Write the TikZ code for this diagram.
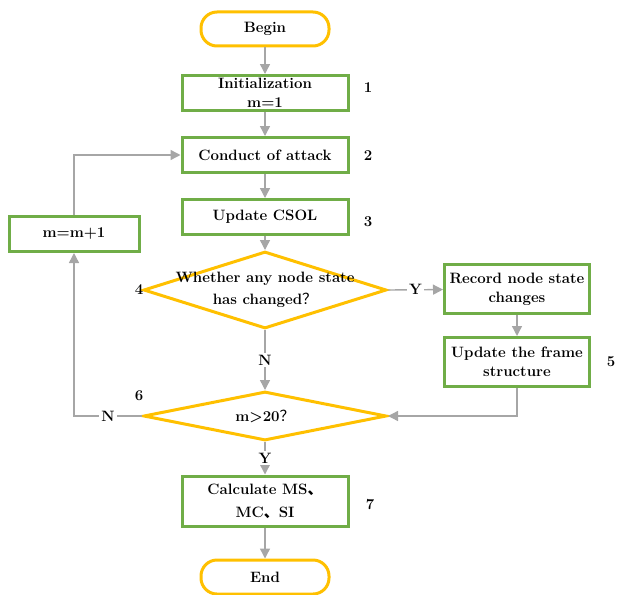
\documentclass[tikz,border=0pt]{standalone}
\usepackage{fontspec}
\newfontfamily\cjk{Noto Sans CJK SC}
\usetikzlibrary{shapes.geometric,arrows.meta}
\definecolor{flowyellow}{HTML}{FFC000}
\definecolor{flowgreen}{HTML}{70AD47}
\definecolor{flowgray}{HTML}{A6A6A6}
\tikzset{
  terminal/.style = {draw=flowyellow,line width=3pt,rounded corners=16pt,
                     minimum width=128pt,minimum height=34pt,font=\fontsize{15}{17}\selectfont\bfseries},
  process/.style  = {draw=flowgreen,line width=3pt,minimum width=166pt,minimum height=35pt,
                     align=center,inner sep=0.5pt,font=\fontsize{15}{19}\selectfont\bfseries},
  decision/.style = {draw=flowyellow,line width=3pt,diamond,inner sep=0pt,minimum width=243pt},
  number/.style   = {font=\fontsize{15}{17}\selectfont\bfseries},
  flow/.style     = {draw=flowgray,line width=1.4pt,-{Triangle[length=10pt,width=10pt]}},
  answer/.style   = {fill=white,inner sep=2pt,font=\fontsize{15}{17}\selectfont\bfseries}
}
\begin{document}
\begin{tikzpicture}[x=1pt,y=-1pt]
  \useasboundingbox (0,0) rectangle (617,594);
  % main column
  \node[terminal] (begin) at (265,29) {Begin};
  \node[process] (init) at (265,93) {Initialization\\m=1};
  \node[process] (attack) at (265,155) {Conduct of attack};
  \node[process] (csol) at (265,217) {Update CSOL};
  \node[decision,minimum height=77pt,
        label={[align=center,font=\fontsize{15}{22}\selectfont\bfseries]center:Whether any node state\\has changed{\cjk\mdseries ？}}]
        (changed) at (265,290) {};
  \node[decision,minimum height=49pt,
        label={[font=\fontsize{15}{17}\selectfont\bfseries]center:m>20{\cjk\mdseries ？}}]
        (limit) at (265,416) {};
  \node[process,minimum height=50pt,font=\fontsize{15}{23}\selectfont\bfseries] (calc) at (265,501) {Calculate MS{\cjk 、}\\MC{\cjk 、}SI};
  \node[terminal] (end) at (265,577) {End};
  % side boxes
  \node[process,minimum width=145pt,minimum height=49pt] (record) at (517,289) {Record node state\\changes};
  \node[process,minimum width=145pt,minimum height=49pt] (frame) at (517,362) {Update the frame\\structure};
  \node[process,minimum width=130pt] (inc) at (74,234) {m=m+1};
  % step numbers
  \node[number] (n1) at (368,88) {1};
  \node[number] (n2) at (368,156) {2};
  \node[number] (n3) at (368,222) {3};
  \node[number] (n4) at (139,290) {4};
  \node[number] (n5) at (611,362) {5};
  \node[number] (n6) at (139,396) {6};
  \node[number] (n7) at (370,505) {7};
  % connectors
  \draw[flow] (begin) -- (init);
  \draw[flow] (init) -- (attack);
  \draw[flow] (attack) -- (csol);
  \draw[flow] (csol) -- (changed);
  \draw[flow] (changed.east) -- node[answer] {Y} (record);
  \draw[flow] (record) -- (frame);
  \draw[flow] (frame.south) |- (limit.east);
  \draw[flow] (changed.south) -- node[answer] {N} (limit.north);
  \draw[flow] (limit.south) -- node[answer] {Y} (calc);
  \draw[flow] (calc) -- (end);
  \draw[flow] (limit.west) -| node[answer,pos=0.25] {N} (inc.south);
  \draw[flow] (inc.north) |- (attack.west);
\end{tikzpicture}
\end{document}
